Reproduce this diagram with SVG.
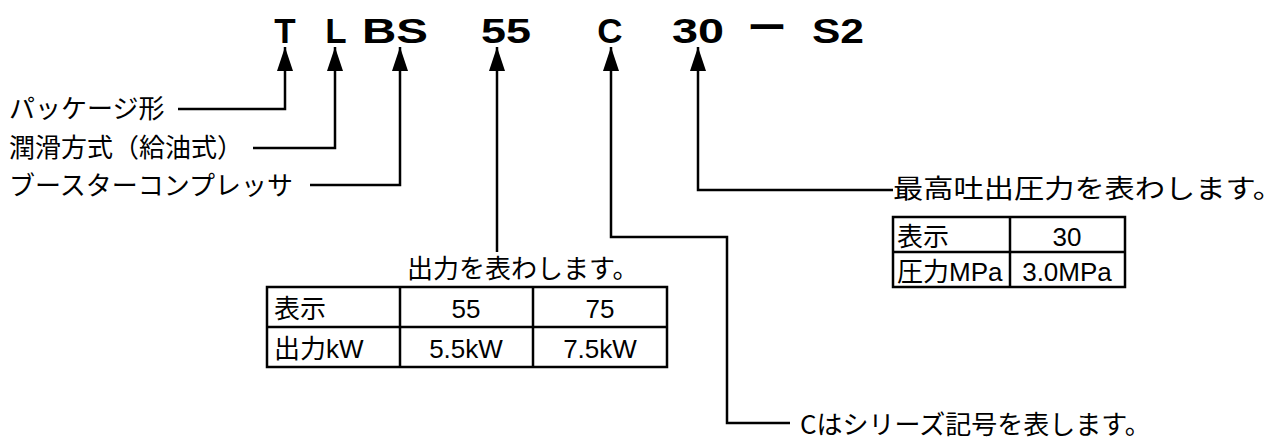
<svg xmlns="http://www.w3.org/2000/svg" width="1287" height="439" viewBox="0 0 1287 439">
<style>
.code{font-family:"Liberation Sans",Arial,sans-serif;font-weight:bold;font-size:35px;fill:#000}
.dash{font-family:"Noto Sans CJK JP",sans-serif;font-weight:bold;font-size:32px;fill:#000}
.jp{font-family:"Noto Sans CJK JP",sans-serif;font-size:26px;fill:#000}
.cell{font-family:"Liberation Sans","Noto Sans CJK JP",sans-serif;font-size:26px;fill:#000}
.ln{fill:none;stroke:#000;stroke-width:2.5}
.tb{fill:none;stroke:#000;stroke-width:2.5}
</style>
<defs>
<marker id="ah" viewBox="0 0 24 16" refX="24" refY="8" markerWidth="24" markerHeight="16" markerUnits="userSpaceOnUse" orient="auto-start-reverse">
<path d="M0,0 L24,8 L0,16 z" fill="#000"/>
</marker>
</defs>
<g id="code">
<text class="code" x="285" y="43" text-anchor="middle">T</text>
<text class="code" x="336" y="43" text-anchor="middle">L</text>
<text class="code" x="395" y="43" text-anchor="middle" textLength="66" lengthAdjust="spacingAndGlyphs">BS</text>
<text class="code" x="506" y="43" text-anchor="middle" textLength="50" lengthAdjust="spacingAndGlyphs">55</text>
<text class="code" x="610" y="43" text-anchor="middle">C</text>
<text class="code" x="698" y="43" text-anchor="middle" textLength="52" lengthAdjust="spacingAndGlyphs">30</text>
<text class="dash" x="747" y="39" textLength="40" lengthAdjust="spacingAndGlyphs">ー</text>
<text class="code" x="838" y="43" text-anchor="middle" textLength="52" lengthAdjust="spacingAndGlyphs">S2</text>
</g>
<g id="connectors">
<polyline class="ln" marker-start="url(#ah)" points="285,47 285,109 178,109"/>
<polyline class="ln" marker-start="url(#ah)" points="335,47 335,148 253,148"/>
<polyline class="ln" marker-start="url(#ah)" points="400,47 400,185 310,185"/>
<polyline class="ln" marker-start="url(#ah)" points="497,47 497,252"/>
<polyline class="ln" marker-start="url(#ah)" points="611,47 611,237 727,237 727,423 790,423"/>
<polyline class="ln" marker-start="url(#ah)" points="698,47 698,190 893,190"/>
</g>
<g id="label-package">
<text class="jp" x="9" y="118">パッケージ形</text>
</g>
<g id="label-lubrication">
<text class="jp" x="9" y="157">潤滑方式（給油式）</text>
</g>
<g id="label-booster">
<text class="jp" x="9" y="195">ブースターコンプレッサ</text>
</g>
<g id="label-output">
<text class="jp" x="407" y="278">出力を表わします。</text>
<rect class="tb" x="267" y="287" width="400" height="80"/>
<line class="tb" x1="267" y1="327" x2="667" y2="327"/>
<line class="tb" x1="400" y1="287" x2="400" y2="367"/>
<line class="tb" x1="533" y1="287" x2="533" y2="367"/>
<text class="cell" x="274" y="318">表示</text>
<text class="cell" x="466" y="318" text-anchor="middle">55</text>
<text class="cell" x="600" y="318" text-anchor="middle">75</text>
<text class="cell" x="274" y="358">出力kW</text>
<text class="cell" x="466" y="358" text-anchor="middle">5.5kW</text>
<text class="cell" x="600" y="358" text-anchor="middle">7.5kW</text>
</g>
<g id="label-pressure">
<text class="jp" x="893" y="198" textLength="390" lengthAdjust="spacingAndGlyphs">最高吐出圧力を表わします。</text>
<rect class="tb" x="893" y="217" width="232" height="70"/>
<line class="tb" x1="893" y1="252" x2="1125" y2="252"/>
<line class="tb" x1="1010" y1="217" x2="1010" y2="287"/>
<text class="cell" x="897" y="246">表示</text>
<text class="cell" x="1067" y="246" text-anchor="middle">30</text>
<text class="cell" x="897" y="281">圧力MPa</text>
<text class="cell" x="1067" y="281" text-anchor="middle">3.0MPa</text>
</g>
<g id="label-series">
<text class="jp" x="800" y="434">Cはシリーズ記号を表します。</text>
</g>
</svg>
